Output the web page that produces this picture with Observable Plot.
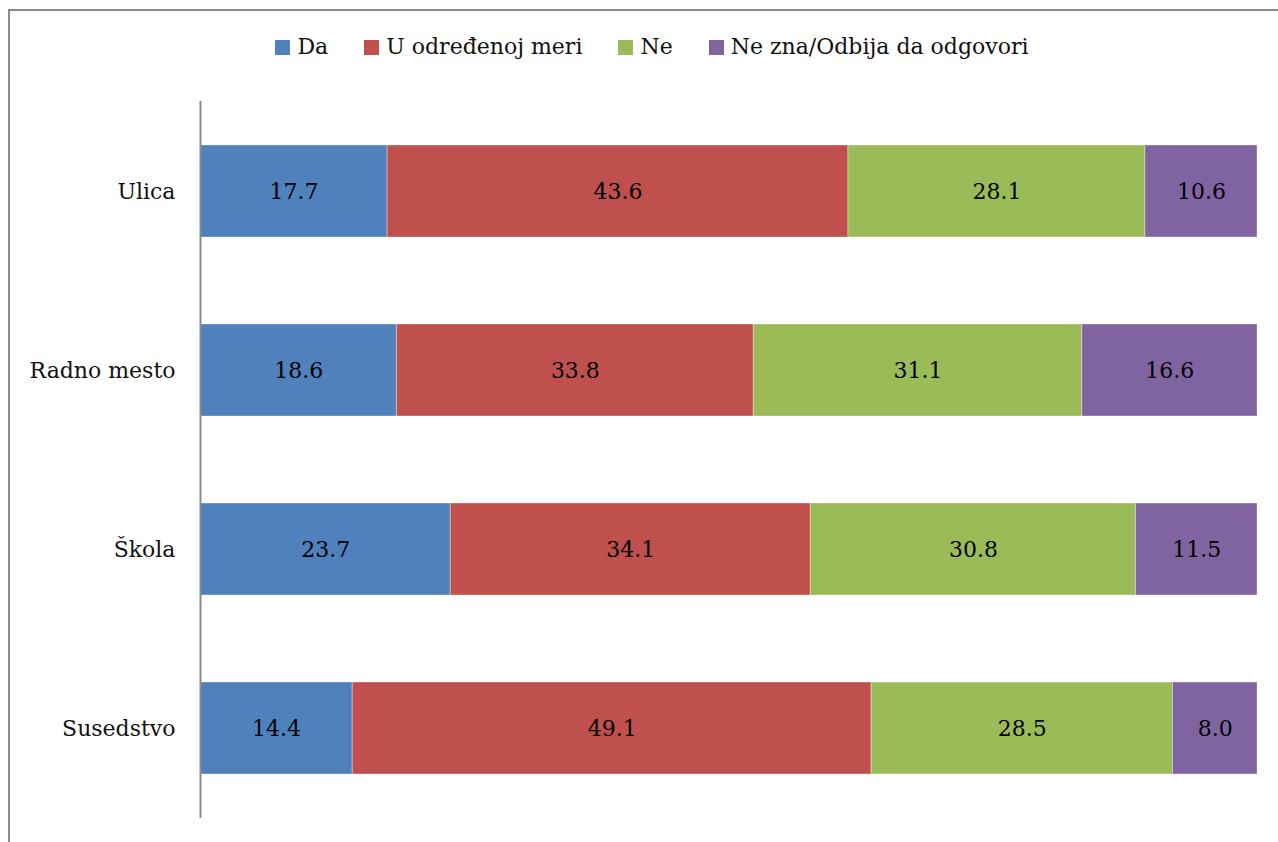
<!DOCTYPE html>
<html>
<head>
<meta charset="utf-8">
<script src="https://cdn.jsdelivr.net/npm/d3@7"></script>
<script src="https://cdn.jsdelivr.net/npm/@observablehq/plot@0.6"></script>
<style>
  html, body { margin: 0; padding: 0; background: #fff; }
  body { width: 1278px; height: 842px; position: relative; overflow: hidden; font-family: "DejaVu Serif", "Liberation Serif", serif; }
  #frame { position: absolute; left: 8px; top: 9px; width: 1400px; height: 1000px; border-left: 2px solid #8a8a8a; border-top: 2px solid #8a8a8a; }
  #legend { position: absolute; top: 34px; left: 0; width: 1304px; text-align: center; font-size: 22px; color: #111; white-space: nowrap; }
  #legend .item { display: inline-block; margin: 0 18px; }
  #legend .sw { display: inline-block; width: 15px; height: 15px; margin-right: 7px; vertical-align: -1px; }
  #chart { position: absolute; left: 0; top: 90px; }
</style>
</head>
<body>
<div id="frame"></div>
<div id="legend"></div>
<div id="chart"></div>
<script>
const categories = ["Ulica", "Radno mesto", "Škola", "Susedstvo"];
const seriesNames = ["Da", "U određenoj meri", "Ne", "Ne zna/Odbija da odgovori"];
const seriesColors = ["#4F81BD", "#C0504D", "#9BBB59", "#8064A2"];
const da = [17.7, 18.6, 23.7, 14.4];
const uOdredjenojMeri = [43.6, 33.8, 34.1, 49.1];
const ne = [28.1, 31.1, 30.8, 28.5];
const neZna = [10.6, 16.6, 11.5, 8.0];

const seriesValues = [da, uOdredjenojMeri, ne, neZna];
const data = [];
categories.forEach((c, i) => {
  seriesNames.forEach((s, j) => {
    data.push({category: c, series: s, value: seriesValues[j][i]});
  });
});

// Legend
const legend = document.getElementById("legend");
seriesNames.forEach((s, j) => {
  const item = document.createElement("span");
  item.className = "item";
  const sw = document.createElement("span");
  sw.className = "sw";
  sw.style.background = seriesColors[j];
  item.appendChild(sw);
  item.appendChild(document.createTextNode(s));
  legend.appendChild(item);
});

const stackOpts = {x: "value", y: "category", offset: "normalize", order: seriesNames};

const chart = Plot.plot({
  width: 1278,
  height: 752,
  marginLeft: 200,
  marginRight: 21,
  marginTop: 11,
  marginBottom: 24,
  style: {fontFamily: "'DejaVu Serif', 'Liberation Serif', serif", fontSize: "22px", color: "#111", background: "transparent"},
  x: {domain: [0, 1], axis: null},
  y: {domain: categories, paddingInner: 0.486, paddingOuter: 0.243, label: null},
  color: {domain: seriesNames, range: seriesColors},
  marks: [
    Plot.barX(data, Plot.stackX({...stackOpts, fill: "series", z: "series", inset: 0, stroke: "#ffffff", strokeOpacity: 0.35, strokeWidth: 1})),
    Plot.text(data, Plot.stackX({...stackOpts, z: "series", text: d => d.value.toFixed(1), fill: "#000", fontSize: 22})),
    Plot.axisY({tickSize: 0, tickPadding: 25, fontSize: 22, label: null}),
    Plot.ruleX([0], {stroke: "#8a8a8a", strokeWidth: 2})
  ]
});
document.getElementById("chart").appendChild(chart);
</script>
</body>
</html>
